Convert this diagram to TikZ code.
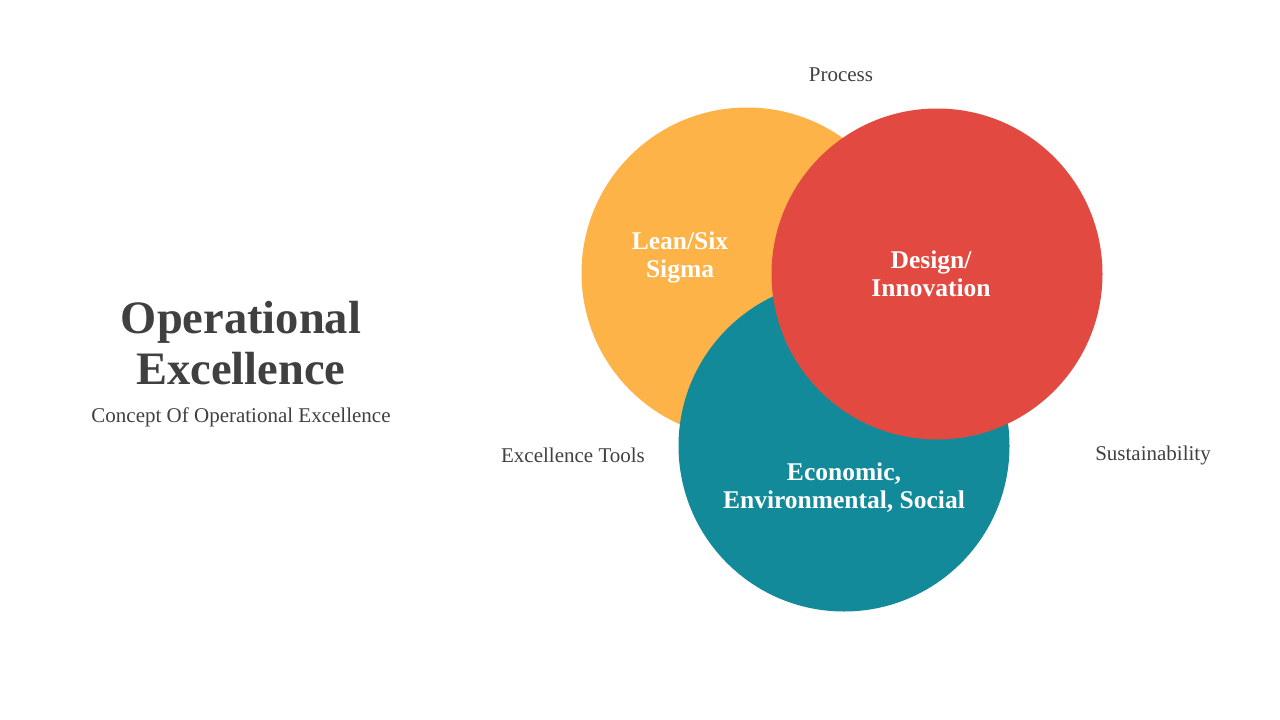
\documentclass[tikz,border=0pt]{standalone}
\usepackage{fontspec}
\setmainfont{Liberation Serif}
\usetikzlibrary{positioning}
\definecolor{leanorange}{HTML}{FDB347}
\definecolor{designred}{HTML}{E24A41}
\definecolor{ecoteal}{HTML}{128A99}
\definecolor{darktext}{HTML}{404040}
\tikzset{
  venn/.style={circle,minimum size=331pt,inner sep=0pt},
  inlabel/.style={text=white,font=\fontsize{25.5}{28}\selectfont\bfseries,align=center},
  outlabel/.style={text=darktext,font=\fontsize{21}{24}\selectfont},
  title/.style={text=darktext,font=\fontsize{46.5}{51}\selectfont\bfseries,align=center},
}
\begin{document}
\begin{tikzpicture}[x=1pt,y=-1pt]
  \useasboundingbox (0,0) rectangle (1280,720);
  % circles
  \node[venn,fill=leanorange] (lean) at (747,273) {};
  \node[venn,fill=ecoteal] (eco) at (844,446) {};
  \node[venn,fill=designred] (design) at (937,274) {};
  % circle labels
  \node[inlabel] (leantxt) at (680,257) {Lean/Six\\Sigma};
  \node[inlabel] (designtxt) at (931,274) {Design/\\Innovation};
  \node[inlabel] (ecotxt) at (844,488) {Economic,\\Environmental, Social};
  % outside labels
  \node[outlabel] (process) at (841,75) {Process};
  \node[outlabel] (tools) at (573,455) {Excellence Tools};
  \node[outlabel] (sustain) at (1153,455) {Sustainability};
  % title
  \node[title] (head) at (241,343) {Operational\\Excellence};
  \node[outlabel] (sub) at (241,417) {Concept Of Operational Excellence};
\end{tikzpicture}
\end{document}
